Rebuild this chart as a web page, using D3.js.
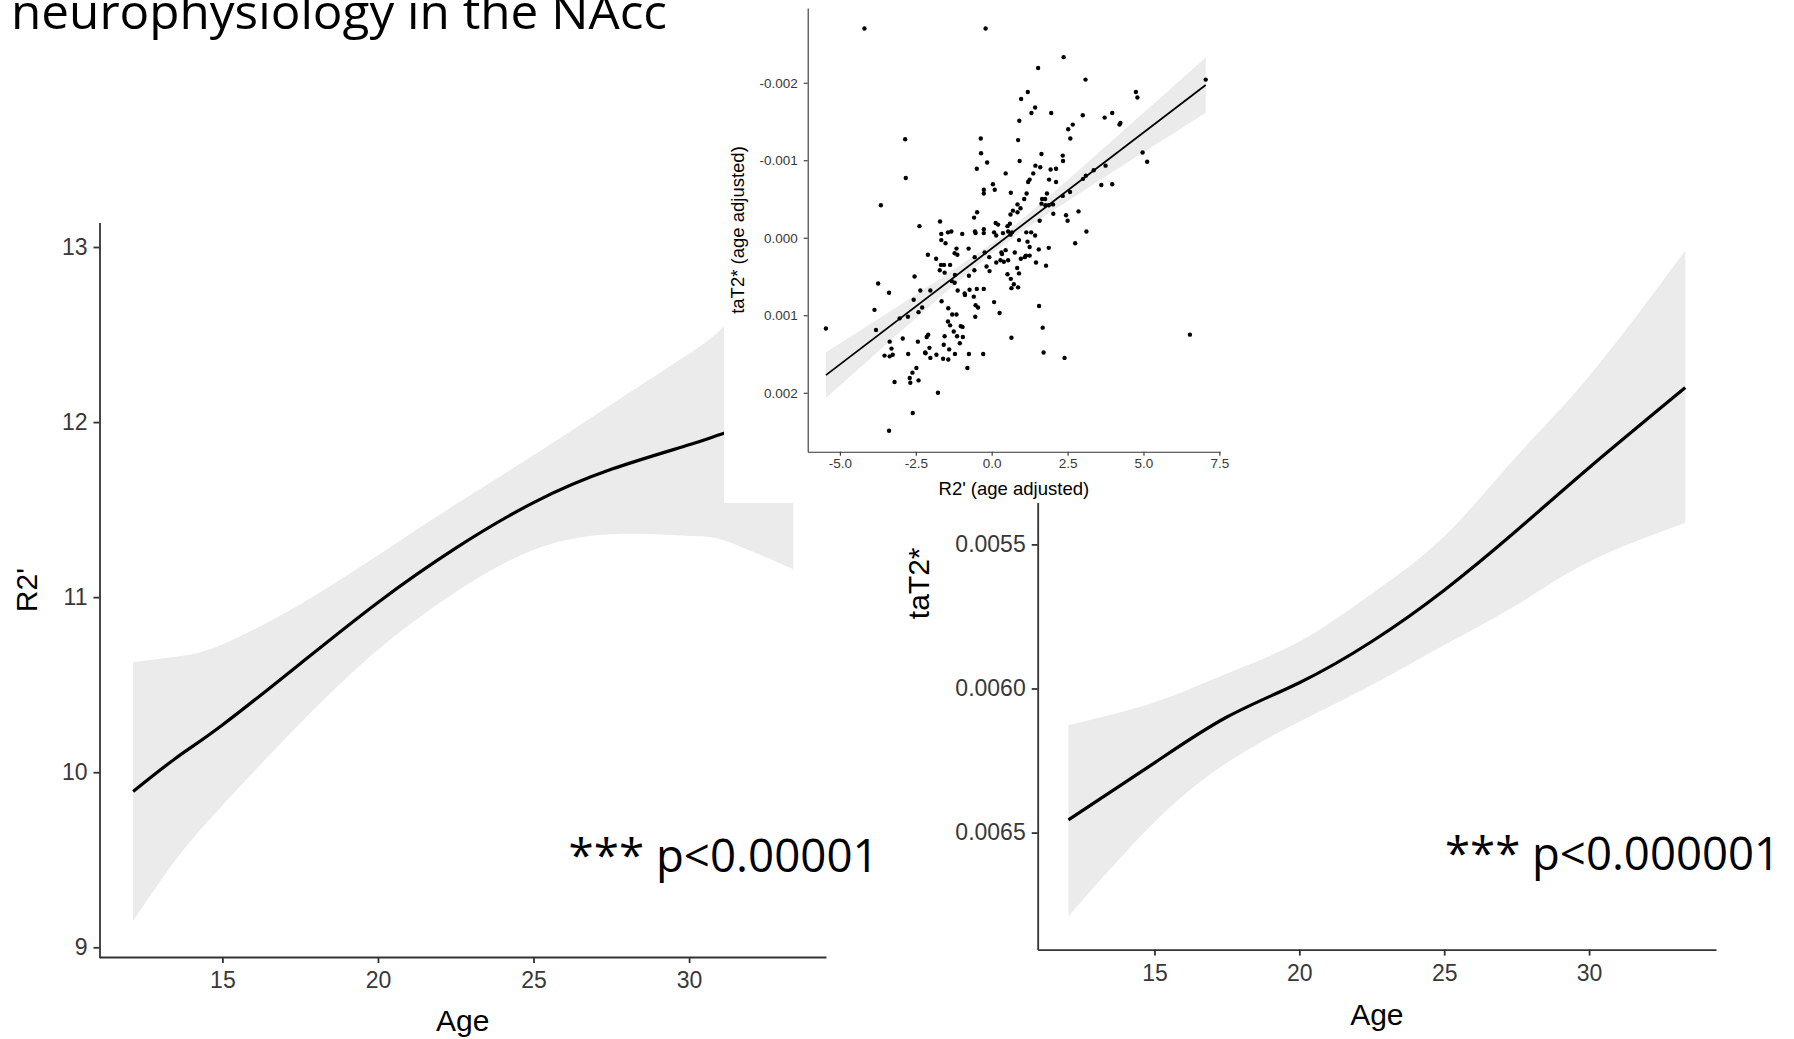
<!DOCTYPE html>
<html>
<head>
<meta charset="utf-8">
<script src="https://cdn.jsdelivr.net/npm/d3@7"></script>
<style>
  html, body { margin: 0; padding: 0; background: #ffffff; }
  svg { display: block; }
</style>
</head>
<body>
<svg id="fig" width="1794" height="1039"></svg>
<script>
// ---------- text ----------
const titleText = "neurophysiology in the NAcc";
const leftPLabel = "*** p<0.00001";
const rightPLabel = "*** p<0.000001";

// ---------- tick values ----------
const ageTicks = [15, 20, 25, 30];
const r2Ticks = [9, 10, 11, 12, 13];
const tat2Ticks = [0.0055, 0.0060, 0.0065];
const insetXTicks = [-5, -2.5, 0, 2.5, 5, 7.5];
const insetYTicks = [-0.002, -0.001, 0, 0.001, 0.002];

// ---------- R2' by age: smooth fit with 95% band ----------
const r2Age   = [12.13, 13.5, 15, 17.5, 20, 22.5, 25, 27.5, 30, 31.2, 33.35];
const r2Fit   = [9.89, 10.08, 10.27, 10.62, 10.97, 11.28, 11.54, 11.73, 11.87, 11.94, 12.05];
const r2Upper = [10.63, 10.66, 10.73, 10.96, 11.24, 11.53, 11.81, 12.10, 12.39, 12.56, 12.94];
const r2Lower = [9.15, 9.50, 9.81, 10.28, 10.70, 11.03, 11.27, 11.36, 11.35, 11.32, 11.16];

// ---------- taT2* by age: smooth fit with 95% band ----------
const tatAge   = [12.03, 15, 17.5, 20, 22.5, 25, 27.5, 30, 33.32];
const tatFit   = [0.006456, 0.006258, 0.006099, 0.005980, 0.005837, 0.005659, 0.005452, 0.005234, 0.004956];
const tatUpper = [0.006127, 0.006048, 0.005948, 0.005837, 0.005671, 0.005472, 0.005194, 0.004917, 0.004480];
const tatLower = [0.006790, 0.006464, 0.006258, 0.006115, 0.005988, 0.005849, 0.005710, 0.005560, 0.005425];

// ---------- age-adjusted R2' vs taT2* (inset) ----------
const insetPoints = [
  [-4.19,-0.00270],[-0.20,-0.00270],[-2.85,-0.00127],[-0.36,-0.00128],[-0.35,-0.00109],
  [-0.15,-0.00097],[-0.49,-0.00089],[0.46,-0.00083],[-2.83,-0.00077],[0.04,-0.00069],
  [-0.26,-0.00062],[-0.26,-0.00057],[0.10,-0.00062],[0.63,-0.00058],[-3.65,-0.00042],
  [0.70,-0.00035],[0.62,-0.00030],[-0.48,-0.00033],[-0.58,-0.00026],[-1.70,-0.00021],
  [-2.38,-0.00015],[0.13,-0.00019],[0.21,-0.00017],[0.60,-0.00018],[0.52,-0.00015],

  [2.37,-0.00233],[1.53,-0.00219],[3.09,-0.00204],[7.05,-0.00204],[1.19,-0.00188],
  [0.97,-0.00179],[4.75,-0.00188],[4.80,-0.00181],[1.43,-0.00168],[1.31,-0.00161],
  [1.96,-0.00161],[3.00,-0.00158],[3.72,-0.00155],[3.97,-0.00161],[0.91,-0.00151],
  [2.67,-0.00146],[2.52,-0.00140],[4.24,-0.00148],[4.21,-0.00146],[2.59,-0.00128],
  [0.87,-0.00126],[1.64,-0.00108],[2.34,-0.00106],[2.35,-0.00099],[0.92,-0.00099],
  [4.97,-0.00110],[5.12,-0.00098],[1.44,-0.00093],[1.60,-0.00091],[1.94,-0.00088],
  [2.12,-0.00089],[1.37,-0.00083],[3.75,-0.00093],[3.36,-0.00087],[1.25,-0.00075],
  [1.20,-0.00072],[1.89,-0.00075],[2.12,-0.00072],[3.10,-0.00080],[3.01,-0.00076],
  [3.61,-0.00068],[3.97,-0.00069],[1.15,-0.00057],[1.82,-0.00057],[2.34,-0.00054],
  [2.58,-0.00059],[1.07,-0.00050],[1.66,-0.00050],[1.76,-0.00050],[0.85,-0.00043],
  [0.95,-0.00038],[1.64,-0.00044],[1.77,-0.00042],[1.88,-0.00042],[2.02,-0.00043],
  [0.85,-0.00033],[2.03,-0.00031],[1.58,-0.00022],[2.45,-0.00029],[2.50,-0.00022],
  [2.86,-0.00034],

  [-1.66,-0.00005],[-1.44,-0.00007],[-1.33,-0.00008],[-0.97,-0.00005],[-0.55,-0.00008],
  [-0.53,-0.00006],[-0.26,-0.00006],[-0.26,-0.00011],[0.08,-0.00007],[0.15,-0.00003],
  [0.37,-0.00006],[0.54,-0.00008],[0.62,-0.00004],[0.67,-0.00007],
  [-1.66,0.00003],[-1.52,0.00007],[-1.16,0.00014],[-1.22,0.00020],[-1.13,0.00022],
  [-0.76,0.00014],[-2.10,0.00022],[-1.83,0.00027],[-1.67,0.00035],[-1.57,0.00035],
  [-1.37,0.00035],[-1.71,0.00042],[-1.55,0.00045],[-0.56,0.00025],[-0.23,0.00019],
  [-0.08,0.00025],[0.32,0.00019],[0.34,0.00021],[0.46,0.00016],[0.76,0.00019],
  [0.29,0.00029],[0.40,0.00031],[0.54,0.00029],[0.15,0.00032],[-0.17,0.00037],
  [-0.07,0.00043],[-0.57,0.00042],[-0.75,0.00049],[-1.21,0.00048],[-1.31,0.00056],
  [-1.22,0.00058],[0.52,0.00047],[0.63,0.00053],[0.73,0.00060],[0.65,0.00065],
  [0.84,0.00039],
  [-2.54,0.00050],[-3.74,0.00059],[-3.38,0.00071],[-2.35,0.00068],[-2.02,0.00068],
  [-1.65,0.00082],[-1.12,0.00068],[-0.89,0.00072],[-0.88,0.00074],[-0.73,0.00067],
  [-0.49,0.00066],[-0.26,0.00066],[-0.59,0.00076],[-2.57,0.00080],[-2.41,0.00096],
  [-2.29,0.00090],[-3.86,0.00093],[-3.81,0.00119],[-5.46,0.00117],[-3.03,0.00104],
  [-2.76,0.00102],[-1.43,0.00091],[-1.30,0.00099],[-1.16,0.00099],[-0.53,0.00087],
  [-0.45,0.00090],[-0.54,0.00102],[0.08,0.00083],[0.26,0.00097],[-1.44,0.00108],
  [-1.37,0.00113],[-1.02,0.00114],[-0.96,0.00115],[-1.25,0.00121],[-1.14,0.00127],
  [-0.95,0.00128],[-1.05,0.00136],[-1.55,0.00127],[-1.58,0.00138],[-1.40,0.00144],
  [-1.21,0.00150],[-0.75,0.00150],[-0.28,0.00150],[-0.80,0.00168],[-1.60,0.00156],
  [-1.43,0.00157],[-1.82,0.00151],[-2.02,0.00155],[-2.05,0.00142],[-2.19,0.00148],
  [-2.18,0.00149],[-2.14,0.00128],[-2.09,0.00125],[-2.43,0.00134],[-2.93,0.00130],
  [-3.36,0.00134],[-3.30,0.00143],[-3.53,0.00152],[-3.36,0.00153],[-3.26,0.00151],
  [-2.75,0.00150],[-2.61,0.00174],[-2.48,0.00168],[-2.41,0.00184],[-2.70,0.00181],
  [-2.68,0.00187],[-3.20,0.00186],[-1.77,0.00200],[-2.60,0.00226],[-3.38,0.00249],
  [0.65,0.00129],

  [3.12,-0.00008],[2.75,0.00007],[1.14,-0.00007],[1.30,-0.00007],[1.43,-0.00003],
  [0.90,0.00003],[1.18,0.00005],[1.25,0.00012],[1.55,0.00015],[1.88,0.00013],
  [0.96,0.00027],[1.09,0.00025],[1.13,0.00023],[1.25,0.00023],[1.46,0.00032],
  [1.79,0.00036],[0.90,0.00046],[0.87,0.00064],[1.56,0.00088],[1.68,0.00116],
  [1.71,0.00148],[2.40,0.00155],[6.53,0.00125]
];

// linear fit and its 95% band
const insetFitX = [-5.46, 7.05];
const insetFitY = [0.001772, -0.001970];
const insetBandX = [-5.46, -4, -2.5, -1, 0.17, 1.5, 3, 5, 7.05];
const insetBandLow = [0.001478, 0.001113, 0.000736, 0.000343, 0.000023, -0.000404, -0.000916, -0.001612, -0.002327];
const insetBandHigh = [0.002066, 0.001557, 0.001038, 0.000533, 0.000153, -0.000216, -0.000600, -0.001102, -0.001613];

// ---------- drawing ----------
const svg = d3.select("#fig");
const AXIS_FONT = "'Liberation Sans', Arial, Helvetica, sans-serif";
const NOTE_FONT = "'Open Sans', 'Noto Sans', sans-serif";
const BAND = "#ebebeb";
const TICK_TEXT = "#383838";

function styleAxis(g, fontSize, stroke, width) {
  g.select(".domain").attr("stroke", stroke).attr("stroke-width", width);
  g.selectAll(".tick line").attr("stroke", stroke).attr("stroke-width", width);
  g.selectAll(".tick text")
    .attr("fill", TICK_TEXT)
    .style("font-family", AXIS_FONT)
    .style("font-size", fontSize + "px");
}

function drawSmoothPanel(p) {
  const x = d3.scaleLinear().domain(p.xDomain).range([p.left, p.right]);
  const y = d3.scaleLinear().domain(p.yDomain).range(p.yRange);
  const g = svg.append("g");
  const idx = d3.range(p.ages.length);

  g.append("path")
    .attr("d", d3.area()
      .x(i => x(p.ages[i]))
      .y0(i => y(p.lower[i]))
      .y1(i => y(p.upper[i]))
      .curve(d3.curveNatural)(idx))
    .attr("fill", BAND);

  g.append("path")
    .attr("d", d3.line()
      .x(i => x(p.ages[i]))
      .y(i => y(p.fit[i]))
      .curve(d3.curveNatural)(idx))
    .attr("fill", "none")
    .attr("stroke", "#000")
    .attr("stroke-width", 3.2);

  const ax = g.append("g")
    .attr("transform", `translate(0,${p.bottom})`)
    .call(d3.axisBottom(x).tickValues(ageTicks).tickSize(6).tickSizeOuter(0).tickPadding(9));
  styleAxis(ax, p.tickFont, "#333", 1.8);

  const ay = g.append("g")
    .attr("transform", `translate(${p.left},0)`)
    .call(d3.axisLeft(y).tickValues(p.yTicks).tickFormat(p.yFormat).tickSize(6).tickSizeOuter(0).tickPadding(6));
  styleAxis(ay, p.tickFont, "#333", 1.8);

  g.append("text")
    .attr("x", (p.left + p.right) / 2)
    .attr("y", p.xTitleY)
    .attr("text-anchor", "middle")
    .style("font-family", AXIS_FONT)
    .style("font-size", p.titleFont + "px")
    .text("Age");

  g.append("text")
    .attr("transform", `translate(${p.yTitleX},${(p.yRange[0] + p.yRange[1]) / 2}) rotate(-90)`)
    .attr("text-anchor", "middle")
    .style("font-family", AXIS_FONT)
    .style("font-size", p.titleFont + "px")
    .text(p.yTitle);
}

// left: R2' by age
drawSmoothPanel({
  left: 99.5, right: 826, bottom: 957,
  xDomain: [11.05, 34.4], yDomain: [8.94, 13.14], yRange: [957.8, 222.5],
  ages: r2Age, fit: r2Fit, lower: r2Lower, upper: r2Upper,
  yTicks: r2Ticks, yFormat: d => String(d), yTitle: "R2'",
  tickFont: 23, titleFont: 30, xTitleY: 1031, yTitleX: 37
});

// right: taT2* by age (reversed axis)
drawSmoothPanel({
  left: 1037.7, right: 1716, bottom: 949.6,
  xDomain: [10.97, 34.38], yDomain: [0.004364, 0.006906], yRange: [217, 949.6],
  ages: tatAge, fit: tatFit, lower: tatLower, upper: tatUpper,
  yTicks: tat2Ticks, yFormat: d => d.toFixed(4), yTitle: "taT2*",
  tickFont: 23, titleFont: 30, xTitleY: 1025, yTitleX: 929
});

// significance notes
svg.append("text")
  .attr("x", 568.6).attr("y", 872)
  .attr("textLength", 310).attr("lengthAdjust", "spacingAndGlyphs")
  .style("font-family", NOTE_FONT).style("font-size", "46px").attr("fill", "#000")
  .text(leftPLabel);
svg.append("text")
  .attr("x", 1445).attr("y", 869.5)
  .attr("textLength", 335).attr("lengthAdjust", "spacingAndGlyphs")
  .style("font-family", NOTE_FONT).style("font-size", "46px").attr("fill", "#000")
  .text(rightPLabel);

// ---------- inset scatter ----------
const inset = svg.append("g");
inset.append("rect")
  .attr("x", 724).attr("y", 0).attr("width", 516).attr("height", 503)
  .attr("fill", "#ffffff");

const xI = d3.scaleLinear().domain([-6.06, 7.52]).range([807.7, 1220]);
const yI = d3.scaleLinear().domain([-0.002964, 0.00276]).range([8, 451.7]);

const bIdx = d3.range(insetBandX.length);
inset.append("path")
  .attr("d", d3.area()
    .x(i => xI(insetBandX[i]))
    .y0(i => yI(insetBandLow[i]))
    .y1(i => yI(insetBandHigh[i]))
    .curve(d3.curveNatural)(bIdx))
  .attr("fill", BAND);

inset.selectAll("circle.pt")
  .data(insetPoints)
  .join("circle")
  .attr("class", "pt")
  .attr("cx", d => xI(d[0]))
  .attr("cy", d => yI(d[1]))
  .attr("r", 2.2)
  .attr("fill", "#000");

inset.append("path")
  .attr("d", d3.line()
    .x(i => xI(insetFitX[i]))
    .y(i => yI(insetFitY[i]))(d3.range(insetFitX.length)))
  .attr("stroke", "#000").attr("stroke-width", 1.8).attr("fill", "none");

const iax = inset.append("g")
  .attr("transform", "translate(0,451.7)")
  .call(d3.axisBottom(xI).tickValues(insetXTicks).tickFormat(d => d.toFixed(1))
    .tickSize(4).tickSizeOuter(0).tickPadding(3));
styleAxis(iax, 13.5, "#333", 1.1);

const iay = inset.append("g")
  .attr("transform", "translate(807.7,0)")
  .call(d3.axisLeft(yI).tickValues(insetYTicks).tickFormat(d => d.toFixed(3))
    .tickSize(4).tickSizeOuter(0).tickPadding(6));
styleAxis(iay, 13.5, "#333", 1.1);

inset.append("text")
  .attr("x", (807.7 + 1220) / 2).attr("y", 495)
  .attr("text-anchor", "middle")
  .style("font-family", AXIS_FONT).style("font-size", "18.5px")
  .text("R2' (age adjusted)");
inset.append("text")
  .attr("transform", "translate(743.5,230) rotate(-90)")
  .attr("text-anchor", "middle")
  .style("font-family", AXIS_FONT).style("font-size", "18.5px")
  .text("taT2* (age adjusted)");

// heading (runs off the top edge)
svg.append("text")
  .attr("x", 11).attr("y", 29)
  .attr("textLength", 656).attr("lengthAdjust", "spacingAndGlyphs")
  .style("font-family", NOTE_FONT).style("font-size", "48px").attr("fill", "#000")
  .text(titleText);
</script>
</body>
</html>
